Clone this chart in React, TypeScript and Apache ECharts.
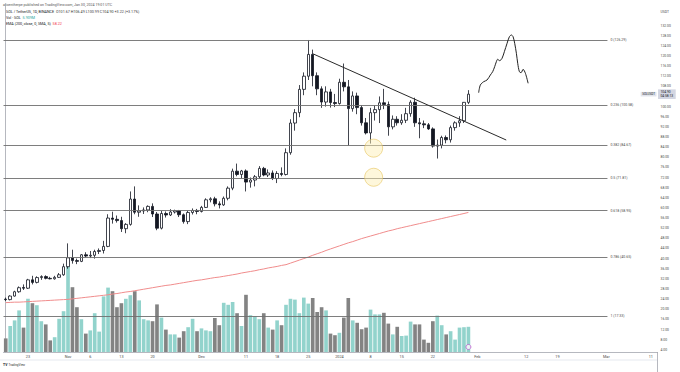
import React, { useEffect, useRef } from "react";
import * as echarts from "echarts";

// ---------- data ----------
const SLOT_COUNT = 147; // Oct 18, 2023 .. Mar 12, 2024 (daily)
const dates: string[] = [];
for (let i = 0; i < SLOT_COUNT; i++) {
  const d = new Date(Date.UTC(2023, 9, 18 + i));
  dates.push(d.toISOString().slice(0, 10));
}

const opens = [
  24.0, 23.8, 25.2, 26.9, 28.6, 28.3, 31.6, 30.6, 32.5, 32.9,
  32.2, 32.0, 32.6, 33.6, 36.8, 40.3, 39.2, 38.9, 41.5, 41.0,
  41.3, 42.8, 43.2, 44.8, 56.0, 55.5, 55.0, 51.8, 53.5, 63.5,
  58.3, 58.8, 59.2, 60.6, 57.6, 52.0, 57.8, 57.2, 58.4, 58.9,
  57.3, 54.6, 58.2, 59.0, 58.6, 60.2, 63.2, 63.6, 61.6, 61.2,
  63.8, 67.8, 74.5, 73.2, 74.6, 70.2, 71.0, 72.3, 75.6, 73.0,
  73.8, 71.6, 73.6, 73.2, 81.8, 93.5, 97.6, 106.8, 112.0, 120.6,
  112.2, 107.0, 101.8, 105.8, 101.6, 101.2, 109.6, 107.8, 99.2, 104.2,
  99.6, 93.6, 89.6, 97.6, 98.8, 101.5, 100.8, 92.0, 95.0, 93.6,
  94.6, 97.2, 101.7, 93.6, 93.2, 92.8, 91.2, 84.4, 84.8, 87.8,
  86.9, 91.7, 93.6, 94.4, 101.67,
];
const closes = [
  23.8, 25.2, 26.9, 28.5, 28.3, 31.6, 30.6, 32.5, 32.9, 32.2,
  32.0, 32.6, 33.6, 36.8, 40.3, 39.2, 38.9, 41.5, 41.0, 41.3,
  42.8, 43.2, 44.8, 56.0, 55.5, 55.0, 51.8, 53.5, 63.5, 58.3,
  58.8, 59.2, 60.6, 57.6, 52.0, 57.8, 57.2, 58.4, 58.9, 57.3,
  54.6, 58.2, 59.0, 58.6, 60.2, 63.2, 63.6, 61.6, 61.2, 63.8,
  67.8, 74.5, 73.2, 74.6, 70.2, 71.0, 72.3, 75.6, 73.0, 73.8,
  71.6, 73.6, 73.2, 81.8, 93.5, 97.6, 106.8, 112.0, 120.6, 112.2,
  107.0, 101.8, 105.8, 101.6, 101.2, 109.6, 107.8, 99.2, 104.2, 99.6,
  93.6, 89.6, 97.6, 98.8, 101.5, 100.8, 92.0, 95.0, 93.6, 94.6,
  97.2, 101.7, 93.6, 93.2, 92.8, 91.2, 84.4, 84.8, 87.8, 86.9,
  91.7, 93.6, 94.4, 101.68, 104.9,
];
const highs = [
  24.6, 25.5, 27.3, 29.0, 29.8, 32.0, 33.2, 33.0, 33.4, 33.4,
  32.8, 33.2, 34.3, 38.0, 46.0, 43.5, 40.0, 41.8, 42.5, 43.0,
  43.5, 44.0, 47.0, 57.5, 58.5, 57.0, 56.5, 54.0, 66.5, 68.5,
  61.0, 60.2, 61.0, 61.8, 58.4, 58.8, 58.6, 59.5, 59.3, 59.2,
  57.8, 58.9, 59.8, 59.6, 60.8, 63.8, 64.2, 64.4, 62.6, 64.5,
  68.5, 75.5, 77.5, 75.0, 75.2, 72.0, 73.0, 76.5, 76.2, 75.2,
  74.8, 74.5, 76.0, 83.5, 95.0, 99.0, 108.5, 113.5, 126.29, 122.5,
  113.5, 108.0, 108.0, 107.0, 105.0, 111.0, 117.0, 110.5, 106.0, 105.5,
  100.5, 95.5, 99.5, 100.5, 104.0, 107.0, 102.0, 96.5, 96.2, 97.0,
  99.5, 102.5, 103.5, 95.5, 94.5, 93.5, 91.8, 87.0, 88.5, 88.6,
  92.5, 94.2, 96.2, 101.8, 106.49,
];
const lows = [
  23.2, 23.5, 25.0, 26.5, 27.6, 28.0, 29.8, 30.2, 31.6, 31.8,
  31.8, 31.7, 32.4, 33.2, 36.0, 38.0, 37.8, 38.6, 40.5, 40.2,
  40.0, 41.8, 42.0, 44.5, 53.8, 54.2, 50.5, 50.0, 53.0, 57.5,
  56.5, 57.6, 58.3, 56.4, 51.2, 51.5, 56.2, 56.8, 57.8, 56.4,
  53.8, 53.6, 57.4, 57.5, 58.2, 60.0, 62.2, 60.6, 59.8, 60.8,
  63.0, 67.0, 72.5, 71.8, 66.5, 68.0, 68.5, 71.5, 72.5, 72.2,
  71.0, 69.8, 72.5, 72.8, 81.0, 90.5, 95.8, 104.5, 110.5, 108.0,
  104.5, 99.5, 100.0, 99.6, 99.8, 100.8, 106.0, 84.6, 98.0, 97.0,
  92.5, 89.0, 85.4, 94.5, 93.5, 99.0, 88.5, 91.0, 92.5, 92.8,
  93.5, 96.0, 92.0, 87.5, 91.5, 90.8, 83.8, 79.5, 83.5, 85.5,
  85.8, 90.5, 92.0, 93.5, 100.99,
];
const volumes = [
  3.4, 6.5, 7.9, 10.4, 6.1, 13.3, 12.2, 11.7, 7.7, 6.9,
  2.9, 3.7, 8.3, 10.2, 21.4, 16.2, 11.2, 8.2, 4.6, 5.4,
  9.7, 5.1, 13.9, 16.1, 15.2, 11.2, 12.2, 13.3, 14.2, 15.2,
  12.9, 8.2, 7.9, 7.7, 11.9, 8.6, 5.6, 4.4, 4.4, 3.6,
  5.2, 6.2, 8.3, 5.2, 5.9, 5.4, 5.2, 8.5, 6.7, 12.3,
  11.8, 12.5, 9.7, 6.5, 14.3, 9.2, 8.9, 8.2, 9.7, 6.1,
  5.6, 7.9, 6.7, 11.8, 13.3, 13.1, 9.7, 13.6, 12.1, 13.5,
  10.0, 11.2, 10.4, 4.6, 4.2, 4.8, 8.6, 13.5, 7.9, 7.3,
  5.7, 6.1, 10.6, 9.4, 9.4, 9.8, 7.1, 4.4, 6.3, 4.0,
  4.1, 7.6, 6.9, 6.9, 3.1, 2.3, 7.7, 9.1, 6.7, 4.4,
  5.2, 3.1, 6.1, 6.2, 6.3,
];
const ema200 = [
  22.6, 22.7, 22.8, 22.8, 22.9, 23.0, 23.1, 23.2, 23.3, 23.4,
  23.5, 23.6, 23.7, 23.8, 23.9, 24.1, 24.3, 24.5, 24.7, 24.9,
  25.1, 25.3, 25.5, 25.7, 26.0, 26.2, 26.5, 26.8, 27.0, 27.3,
  27.6, 27.9, 28.2, 28.5, 28.8, 29.1, 29.4, 29.6, 29.9, 30.2,
  30.5, 30.8, 31.1, 31.4, 31.6, 31.9, 32.2, 32.5, 32.7, 33.0,
  33.3, 33.6, 33.9, 34.3, 34.6, 34.9, 35.2, 35.6, 35.9, 36.3,
  36.6, 36.9, 37.3, 37.6, 38.2, 38.8, 39.4, 40.0, 40.6, 41.3,
  41.9, 42.5, 43.2, 43.8, 44.4, 45.0, 45.6, 46.2, 46.7, 47.3,
  47.9, 48.4, 48.9, 49.4, 49.9, 50.4, 50.9, 51.3, 51.8, 52.2,
  52.6, 53.0, 53.4, 53.8, 54.2, 54.6, 55.0, 55.4, 55.8, 56.2,
  56.6, 57.0, 57.4, 57.8, 58.22,
];

const fibLevels = ["0", "0.236", "0.382", "0.5", "0.618", "0.786", "1"];
const fibPrices = [126.29, 100.58, 84.67, 71.81, 58.95, 40.65, 17.33];

// trendline (day index, price)
const trendStart = [69.1, 120.8];
const trendEnd = [112.5, 86.8];

// highlighted circles (day index, price)
const circleX = [82.7, 82.7];
const circleY = [83.6, 72.1];

// hand-drawn projection (day index, price)
const projX = [106.3, 106.68, 107.43, 108.19, 108.93, 109.45, 109.9, 110.28, 110.57, 111.02, 111.56, 112.08, 112.69, 113.21, 113.66, 114.04, 114.4, 114.78, 115.08, 115.46, 115.84, 116.29, 116.81, 117.42];
const projY = [105.48, 108.52, 109.83, 110.5, 112.47, 113.77, 115.75, 117.72, 118.67, 118.12, 119.07, 121.67, 124.99, 127.59, 128.26, 127.59, 124.99, 121.04, 117.09, 113.77, 113.38, 114.72, 113.14, 109.2];

const xTickIdx = [5, 14, 19, 26, 33, 44, 54, 61, 68, 75, 82, 89, 96, 106, 117, 124, 135, 145];
const xTickLabels = ["23", "Nov", "6", "13", "20", "Dec", "11", "18", "25", "2024", "8", "15", "22", "Feb", "12", "19", "Mar", "11"];
// 104.00 is covered by the last-price box in the reference
const yTicks = [4, 8, 12, 16, 20, 24, 28, 32, 36, 40, 44, 48, 52, 56, 60, 64, 68, 72, 76, 80, 84, 88, 92, 96, 100, 108, 112, 116, 120, 124, 128, 132];

const headerLine1 = "alicentherpe published on TradingView.com, Jan 30, 2024 19:01 UTC";
const headerSymbol = "SOL / TetherUS, 1D, BINANCE";
const headerOHLC = "O101.67 H106.49 L100.99 C104.90 +3.22 (+3.17%)";
const headerVolName = "Vol · SOL";
const headerVolValue = "5.909M";
const headerEmaName = "EMA (200, close, 0, SMA, 5)";
const headerEmaValue = "58.22";
const countdown = "04:58:13";

// ---------- layout / style ----------
const FONT = "Roboto, 'Noto Sans', 'DejaVu Sans', sans-serif";
const Y_MIN = 3.12;
const Y_MAX = 140.5;
const VOL_MAX = 87;
const FIB_END_INDEX = 135.25;
const GRID_RIGHT = 22.5;
const INK = "#131722";
const VOL_UP = "#92d3cc";
const VOL_DOWN = "#838383";

export default function App() {
  const ref = useRef<HTMLDivElement>(null);

  useEffect(() => {
    if (!ref.current) return;
    const chart = echarts.init(ref.current, null, { renderer: "svg" });
    const last = closes.length - 1;

    const candles = opens.map((o, i) => [o, closes[i], lows[i], highs[i]]);

    const option: any = {
      animation: false,
      backgroundColor: "#ffffff",
      grid: { left: 3.5, right: GRID_RIGHT, top: 4, bottom: 20 },
      xAxis: [
        {
          type: "category",
          data: dates,
          boundaryGap: true,
          axisLine: { lineStyle: { color: "#a3a6af", width: 0.8 } },
          axisTick: { show: false },
          splitLine: { show: false },
          axisLabel: {
            interval: (i: number) => xTickIdx.includes(i),
            formatter: (_v: string, i: number) => {
              const k = xTickIdx.indexOf(i);
              return k >= 0 ? xTickLabels[k] : "";
            },
            fontSize: 3.8,
            color: "#4a4a4a",
            margin: 2,
            fontFamily: FONT,
          },
        },
        { type: "value", min: -0.5, max: SLOT_COUNT - 0.5, show: false },
      ],
      yAxis: [
        {
          type: "value",
          position: "right",
          min: Y_MIN,
          max: Y_MAX,
          axisLine: { show: true, lineStyle: { color: "#a3a6af", width: 0.8 } },
          axisTick: { show: false },
          splitLine: { show: false },
          axisLabel: {
            customValues: yTicks,
            formatter: (v: number) => v.toFixed(2),
            fontSize: 3.4,
            color: "#4a4a4a",
            margin: 3,
            fontFamily: FONT,
          },
        },
        { type: "value", min: 0, max: VOL_MAX, show: false },
      ],
      series: [
        {
          type: "bar",
          name: "Vol",
          xAxisIndex: 0,
          yAxisIndex: 1,
          barWidth: "82%",
          silent: true,
          z: 1,
          data: volumes.map((v, i) => ({
            value: v,
            itemStyle: { color: closes[i] >= opens[i] ? VOL_UP : VOL_DOWN },
          })),
        },
        {
          type: "line",
          name: "fib",
          xAxisIndex: 1,
          yAxisIndex: 0,
          data: [],
          z: 2,
          silent: true,
          markLine: {
            silent: true,
            symbol: ["none", "none"],
            animation: false,
            lineStyle: { color: "#6f6f6f", width: 0.9, type: "solid" },
            label: {
              show: true,
              position: "end",
              distance: 3,
              fontSize: 3.5,
              color: "#4a4a4a",
              fontFamily: FONT,
            },
            data: fibPrices.map((p, k) => [
              { coord: [-0.5, p], label: { formatter: `${fibLevels[k]} (${p.toFixed(2)})` } },
              { coord: [FIB_END_INDEX, p] },
            ]),
          },
        },
        {
          type: "line",
          name: "EMA",
          xAxisIndex: 0,
          yAxisIndex: 0,
          data: ema200,
          showSymbol: false,
          silent: true,
          z: 3,
          lineStyle: { color: "#f08c8c", width: 1 },
        },
        {
          type: "candlestick",
          name: "SOLUSDT",
          xAxisIndex: 0,
          yAxisIndex: 0,
          data: candles,
          barWidth: 3,
          z: 4,
          silent: true,
          itemStyle: {
            color: "#ffffff",
            color0: INK,
            borderColor: INK,
            borderColor0: INK,
            borderWidth: 0.8,
          },
          markLine: {
            silent: true,
            symbol: ["none", "none"],
            animation: false,
            lineStyle: { color: "rgba(0,0,0,0)", width: 0 },
            label: {
              show: true,
              position: "end",
              distance: 0.5,
              formatter: `${closes[last].toFixed(2)}\n${countdown}`,
              backgroundColor: "#d3d6e2",
              color: INK,
              fontSize: 3.3,
              lineHeight: 4,
              padding: [0.8, 2.5, 0.8, 2.5],
              fontFamily: FONT,
            },
            data: [{ yAxis: closes[last] }],
          },
        },
        {
          type: "line",
          name: "projection",
          xAxisIndex: 1,
          yAxisIndex: 0,
          data: projX.map((x, k) => [x, projY[k]]),
          showSymbol: false,
          smooth: 0.3,
          silent: true,
          z: 5,
          lineStyle: { color: "#222222", width: 1 },
          markLine: {
            silent: true,
            symbol: ["none", "none"],
            animation: false,
            label: { show: false },
            lineStyle: { color: "#2a2a2a", width: 1, type: "solid" },
            data: [[{ coord: trendStart }, { coord: trendEnd }]],
          },
        },
        {
          type: "scatter",
          name: "circles",
          xAxisIndex: 1,
          yAxisIndex: 0,
          data: circleX.map((x, k) => [x, circleY[k]]),
          symbol: "circle",
          symbolSize: 18,
          silent: true,
          z: 6,
          itemStyle: {
            color: "rgba(253,238,180,0.6)",
            borderColor: "#e7c663",
            borderWidth: 0.8,
          },
        },
        {
          type: "scatter",
          name: "event",
          xAxisIndex: 0,
          yAxisIndex: 0,
          data: [[last, 5.1]],
          symbol: "circle",
          symbolSize: 5,
          silent: true,
          z: 6,
          itemStyle: { color: "#ffffff", borderColor: "#b65ccc", borderWidth: 1 },
        },
      ],
    };

    chart.setOption(option);

    const yLast = chart.convertToPixel({ yAxisIndex: 0 }, closes[last]) as number;
    const width = chart.getWidth();
    const axisX = width - GRID_RIGHT;

    chart.setOption({
      graphic: {
        elements: [
          {
            type: "text",
            left: 3,
            top: 2.8,
            silent: true,
            style: { text: headerLine1, fill: "#555", fontSize: 3.6, fontFamily: FONT },
          },
          {
            type: "text",
            left: 6,
            top: 10.3,
            silent: true,
            style: {
              text: `{a|${headerSymbol}}  {b|${headerOHLC}}`,
              fontFamily: FONT,
              fontSize: 3.7,
              rich: {
                a: { fill: INK, fontSize: 3.7, fontFamily: FONT },
                b: { fill: "#3a3a3a", fontSize: 3.7, fontFamily: FONT },
              },
            },
          },
          {
            type: "text",
            left: 6,
            top: 16,
            silent: true,
            style: {
              text: `{a|${headerVolName}}  {b|${headerVolValue}}`,
              fontFamily: FONT,
              fontSize: 3.7,
              rich: {
                a: { fill: INK, fontSize: 3.7, fontFamily: FONT },
                b: { fill: "#26a69a", fontSize: 3.7, fontFamily: FONT },
              },
            },
          },
          {
            type: "text",
            left: 6,
            top: 21.7,
            silent: true,
            style: {
              text: `{a|${headerEmaName}}  {b|${headerEmaValue}}`,
              fontFamily: FONT,
              fontSize: 3.7,
              rich: {
                a: { fill: INK, fontSize: 3.7, fontFamily: FONT },
                b: { fill: "#f23645", fontSize: 3.7, fontFamily: FONT },
              },
            },
          },
          {
            type: "text",
            x: axisX + 3,
            y: 12,
            silent: true,
            style: { text: "USDT", fill: "#4a4a4a", fontSize: 3.4, fontFamily: FONT, verticalAlign: "middle" },
          },
          {
            type: "text",
            x: axisX - 1,
            y: yLast,
            silent: true,
            style: {
              text: "SOLUSDT",
              fill: INK,
              fontSize: 3,
              fontFamily: FONT,
              align: "right",
              verticalAlign: "middle",
              backgroundColor: "#e1e4ec",
              padding: [0.8, 1.5, 0.8, 1.5],
            },
          },
          {
            type: "line",
            silent: true,
            shape: { x1: 0, y1: 360, x2: axisX, y2: 360 },
            style: { stroke: "#e0e3eb", lineWidth: 0.8 },
          },
          {
            type: "line",
            silent: true,
            shape: { x1: axisX, y1: 352, x2: axisX, y2: 372 },
            style: { stroke: "#a3a6af", lineWidth: 0.8 },
          },
          {
            type: "text",
            left: 3,
            top: 363.2,
            silent: true,
            style: { text: "TV", fill: INK, fontSize: 3.4, fontWeight: "bold", fontFamily: FONT },
          },
          {
            type: "text",
            left: 8.5,
            top: 363.4,
            silent: true,
            style: { text: "TradingView", fill: "#333", fontSize: 3, fontFamily: FONT },
          },
        ],
      },
    });

    return () => chart.dispose();
  }, []);

  return (
    <div
      ref={ref}
      style={{ position: "fixed", left: 0, top: 0, width: 680, height: 372, background: "#ffffff" }}
    />
  );
}
